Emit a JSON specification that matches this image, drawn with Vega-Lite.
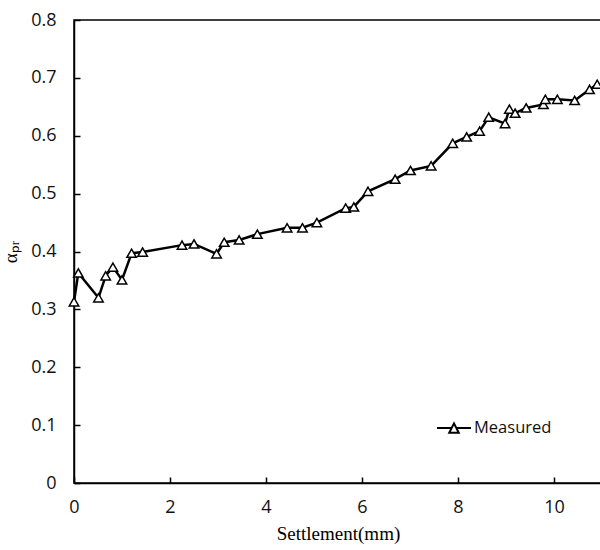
{
  "$schema": "https://vega.github.io/schema/vega-lite/v6.json",
  "width": 528,
  "height": 463,
  "autosize": {"type": "none"},
  "padding": {"left": 74, "top": 20, "right": 0, "bottom": 67},
  "background": "white",
  "config": {
    "view": {"stroke": "black", "strokeWidth": 1.5},
    "axis": {
      "grid": false,
      "labelFlush": false,
      "domainColor": "black",
      "domainWidth": 1.5,
      "tickColor": "black",
      "tickWidth": 1.5,
      "tickSize": -6,
      "labelFont": "Open Sans",
      "labelFontSize": 18,
      "labelColor": "#111111",
      "titleFont": "Liberation Serif",
      "titleFontSize": 19,
      "titleFontWeight": "normal",
      "titleColor": "black"
    }
  },
  "data": {
    "values": [
      {"s": 0.0, "a": 0.313, "series": "Measured"},
      {"s": 0.09, "a": 0.363, "series": "Measured"},
      {"s": 0.51, "a": 0.320, "series": "Measured"},
      {"s": 0.66, "a": 0.358, "series": "Measured"},
      {"s": 0.81, "a": 0.373, "series": "Measured"},
      {"s": 1.0, "a": 0.351, "series": "Measured"},
      {"s": 1.2, "a": 0.397, "series": "Measured"},
      {"s": 1.43, "a": 0.399, "series": "Measured"},
      {"s": 2.25, "a": 0.411, "series": "Measured"},
      {"s": 2.5, "a": 0.413, "series": "Measured"},
      {"s": 2.97, "a": 0.396, "series": "Measured"},
      {"s": 3.13, "a": 0.416, "series": "Measured"},
      {"s": 3.44, "a": 0.420, "series": "Measured"},
      {"s": 3.82, "a": 0.430, "series": "Measured"},
      {"s": 4.44, "a": 0.441, "series": "Measured"},
      {"s": 4.76, "a": 0.441, "series": "Measured"},
      {"s": 5.06, "a": 0.450, "series": "Measured"},
      {"s": 5.66, "a": 0.475, "series": "Measured"},
      {"s": 5.83, "a": 0.477, "series": "Measured"},
      {"s": 6.125, "a": 0.504, "series": "Measured"},
      {"s": 6.69, "a": 0.525, "series": "Measured"},
      {"s": 7.01, "a": 0.540, "series": "Measured"},
      {"s": 7.44, "a": 0.548, "series": "Measured"},
      {"s": 7.89, "a": 0.587, "series": "Measured"},
      {"s": 8.18, "a": 0.598, "series": "Measured"},
      {"s": 8.45, "a": 0.608, "series": "Measured"},
      {"s": 8.64, "a": 0.632, "series": "Measured"},
      {"s": 8.98, "a": 0.621, "series": "Measured"},
      {"s": 9.07, "a": 0.646, "series": "Measured"},
      {"s": 9.19, "a": 0.639, "series": "Measured"},
      {"s": 9.42, "a": 0.648, "series": "Measured"},
      {"s": 9.78, "a": 0.654, "series": "Measured"},
      {"s": 9.82, "a": 0.663, "series": "Measured"},
      {"s": 10.07, "a": 0.663, "series": "Measured"},
      {"s": 10.43, "a": 0.661, "series": "Measured"},
      {"s": 10.74, "a": 0.680, "series": "Measured"},
      {"s": 10.9, "a": 0.689, "series": "Measured"}
    ]
  },
  "encoding": {
    "x": {
      "field": "s",
      "type": "quantitative",
      "scale": {"domain": [0, 11], "nice": false, "zero": false},
      "axis": {"values": [0, 2, 4, 6, 8, 10], "title": "Settlement(mm)", "labelPadding": 21, "titlePadding": 8}
    },
    "y": {
      "field": "a",
      "type": "quantitative",
      "scale": {"domain": [0, 0.8], "nice": false},
      "axis": {
        "values": [0, 0.1, 0.2, 0.3, 0.4, 0.5, 0.6, 0.7, 0.8],
        "labelExpr": "datum.value == 0 ? '0' : format(datum.value, '.1f')",
        "title": "αₚᵣ",
        "labelPadding": 24,
        "titlePadding": 10
      }
    }
  },
  "layer": [
    {
      "mark": {"type": "line", "color": "black", "strokeWidth": 2.5},
      "encoding": {}
    },
    {
      "mark": {"type": "point", "shape": "triangle-up", "size": 90, "filled": true, "fill": "white", "strokeWidth": 1.5, "opacity": 1},
      "encoding": {
        "stroke": {
          "field": "series",
          "type": "nominal",
          "scale": {"range": ["black"]},
          "legend": {
            "title": null,
            "orient": "none",
            "legendX": 362,
            "legendY": 390,
            "symbolType": "M -1 0 L -0.15 0 M 0.15 0 L 1 0 M 0 -0.27 L 0.28 0.28 L -0.28 0.28 Z",
            "symbolSize": 1156,
            "symbolFillColor": "white",
            "symbolStrokeColor": "black",
            "symbolStrokeWidth": 2,
            "symbolOpacity": 1,
            "labelFont": "Open Sans",
            "labelFontSize": 16.5,
            "labelColor": "#111111",
            "labelOffset": 2
          }
        }
      }
    }
  ]
}
